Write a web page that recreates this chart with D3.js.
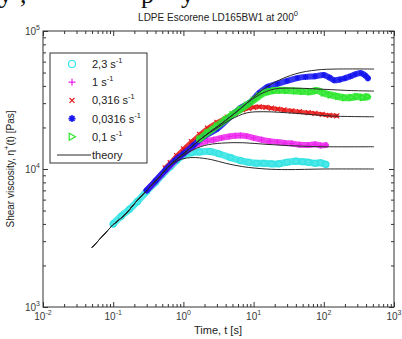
<!DOCTYPE html>
<html>
<head>
<meta charset="utf-8">
<script src="https://cdn.jsdelivr.net/npm/d3@7"></script>
<style>
  body { margin: 0; background: #fff; }
  svg { display: block; font-family: "Liberation Sans", Arial, sans-serif; }
</style>
</head>
<body>
<div id="chart"></div>
<script>
const t23 = [0.1, 0.13, 0.17, 0.22, 0.3, 0.4, 0.5, 0.65, 0.8, 1.0, 1.3, 1.7, 2.4, 3.2, 4.7, 6.5, 8.5, 11, 14, 18, 23, 30, 40, 50, 60, 75, 90, 107];
const eta23 = [4000, 4550, 5100, 5800, 6900, 8000, 9100, 10400, 11500, 12600, 13100, 13300, 13400, 12900, 12100, 11500, 11200, 11000, 11000, 10900, 10900, 11200, 11400, 11300, 11200, 11000, 11100, 10800];

const t1 = [0.3, 0.36, 0.45, 0.55, 0.7, 0.85, 1.0, 1.3, 1.7, 2.2, 2.7, 3.5, 4.5, 5.5, 6.5, 8, 10, 13, 17, 22, 28, 35, 45, 60, 75, 90, 107];
const eta1 = [7000, 7700, 8700, 9700, 11000, 12100, 12900, 14200, 15300, 16000, 16300, 16800, 17200, 17400, 17500, 17300, 16800, 16300, 15900, 15700, 15400, 15300, 15000, 14900, 15100, 14800, 14900];

const t0316 = [0.55, 0.65, 0.8, 1.0, 1.3, 1.7, 2.2, 3.0, 4.2, 5.5, 7, 8.5, 10, 12, 15, 18, 22, 27, 35, 45, 60, 75, 95, 120, 153];
const eta0316 = [10200, 11100, 12500, 14000, 15800, 17800, 19800, 21800, 23800, 25500, 26800, 27500, 28000, 28200, 28000, 27600, 27200, 26800, 26400, 26000, 25600, 25300, 24900, 24500, 24300];

const t00316 = [0.3, 0.4, 0.55, 0.75, 1.0, 1.4, 2, 3, 4.5, 6.6, 9, 12, 16, 22, 30, 42, 55, 75, 100, 120, 140, 170, 200, 240, 280, 340, 390, 425];
const eta00316 = [7000, 8200, 9800, 11500, 12900, 14900, 17300, 19500, 23500, 27800, 30500, 35500, 39500, 41500, 43500, 45600, 46500, 47000, 48000, 46000, 44000, 44500, 45500, 47000, 48500, 49500, 47500, 45500];

const t01 = [1.7, 2.2, 3, 4, 5, 6.5, 8, 10, 12, 14, 17, 20, 25, 30, 40, 50, 65, 80, 100, 125, 160, 200, 250, 300, 360, 420];
const eta01 = [16500, 18300, 20500, 22800, 24800, 27000, 29000, 31500, 33800, 35500, 36500, 37000, 37200, 37000, 36800, 36500, 36300, 37000, 35500, 34400, 33500, 32800, 33000, 33500, 33000, 33400];

// theory: common start-up envelope, then one branch per rate
const envT = [0.05, 0.07, 0.1, 0.15, 0.2, 0.3, 0.45, 0.6, 1, 2, 4, 6, 8, 12, 20, 40, 80, 150, 520];
const envEta = [2700, 3250, 3950, 4700, 5600, 7000, 8700, 10300, 12900, 17300, 22500, 26500, 30000, 36000, 42500, 49000, 52200, 53000, 53000];

const th23T = [0.8, 1.1, 1.5, 2.5, 4, 7, 15, 30, 100, 520];
const th23Eta = [11400, 12000, 12100, 11700, 11000, 10400, 10000, 9900, 10000, 10000];
const th1T = [0.8, 1.2, 2, 3.5, 7, 15, 40, 100, 520];
const th1Eta = [11700, 13300, 14800, 15400, 15500, 15100, 14700, 14500, 14500];
const th0316T = [3, 4.7, 8, 14, 40, 130, 520];
const th0316Eta = [19800, 22800, 25500, 26000, 25300, 24200, 23900];
const th01T = [12, 20, 40, 100, 250, 520];
const th01Eta = [34500, 38000, 38500, 37800, 37000, 36700];

const legendLabels = ["2,3", "1", "0,316", "0,0316", "0,1"];
const xDecades = [-2, -1, 0, 1, 2, 3];
const yDecades = [3, 4, 5];

const zip = (a, b) => a.map((v, i) => [v, b[i]]);
const withEnv = (bt, be) => zip(envT, envEta).filter(d => d[0] < bt[0]).concat(zip(bt, be));

const series = [
  { pts: zip(t23, eta23), color: "#2fe3e3", band: 7, mark: "circle", label: legendLabels[0] },
  { pts: zip(t1, eta1), color: "#ec22ec", band: 6, mark: "plus", label: legendLabels[1] },
  { pts: zip(t0316, eta0316), color: "#e61414", band: 4, mark: "x", label: legendLabels[2] },
  { pts: zip(t00316, eta00316), color: "#1414ee", band: 6, mark: "star", label: legendLabels[3] },
  { pts: zip(t01, eta01), color: "#2ae62a", band: 7, mark: "tri", label: legendLabels[4] }
];
const theory = [
  withEnv(th23T, th23Eta),
  withEnv(th1T, th1Eta),
  withEnv(th0316T, th0316Eta),
  zip(envT, envEta),
  withEnv(th01T, th01Eta)
];

const width = 402, height = 339;
const x = d3.scaleLog().domain([1e-2, 1e3]).range([43, 394]);
const y = d3.scaleLog().domain([1e3, 1e5]).range([307, 31]);

const svg = d3.select("#chart").append("svg")
  .attr("width", width).attr("height", height);

// bits of page text cut off above the figure
const cut = svg.append("g").attr("font-family", "Liberation Serif, serif").attr("font-size", 26).attr("fill", "#111");
[["y", -1], [",", 20], ["p", 141], ["y", 181]].forEach(d => cut.append("text").attr("x", d[1]).attr("y", 3).text(d[0]));

svg.append("defs").append("clipPath").attr("id", "plotclip")
  .append("rect").attr("x", 43).attr("y", 31).attr("width", 351).attr("height", 276);

function marker(type, s) {
  if (type === "circle") return d3.symbol(d3.symbolCircle, Math.PI * s * s)();
  if (type === "plus") return `M${-s},0H${s}M0,${-s}V${s}`;
  if (type === "x") return `M${-s},${-s}L${s},${s}M${-s},${s}L${s},${-s}`;
  if (type === "star") {
    const k = s * 0.7;
    return `M${-s},0H${s}M0,${-s}V${s}M${-k},${-k}L${k},${k}M${-k},${k}L${k},${-k}`;
  }
  return `M${-s * 0.8},${-s}L${s},0L${-s * 0.8},${s}Z`;
}

const line = d3.line().x(d => x(d[0])).y(d => y(d[1])).curve(d3.curveCatmullRom);
const plot = svg.append("g").attr("clip-path", "url(#plotclip)");

series.forEach(s => {
  plot.append("path").datum(s.pts)
    .attr("d", line).attr("fill", "none")
    .attr("stroke", s.color).attr("stroke-width", s.band)
    .attr("stroke-linecap", "round").attr("stroke-linejoin", "round")
    .attr("opacity", 0.85);
  plot.append("g").selectAll("path").data(s.pts).join("path")
    .attr("transform", d => `translate(${x(d[0])},${y(d[1])})`)
    .attr("d", marker(s.mark, s.mark === "x" ? 2.5 : 3))
    .attr("fill", s.mark === "star" ? s.color : "none")
    .attr("stroke", s.color).attr("stroke-width", 1.1);
});

plot.selectAll(".theory").data(theory).join("path")
  .attr("class", "theory")
  .attr("d", line).attr("fill", "none")
  .attr("stroke", "#2a2a2a").attr("stroke-width", 1);

// axes: inward ticks on all four sides
const xAll = x.ticks(), yAll = y.ticks();
const isMajor = v => Math.abs(Math.log10(v) - Math.round(Math.log10(v))) < 1e-9;
const xMaj = xAll.filter(isMajor), xMin = xAll.filter(v => !isMajor(v));
const yMaj = yAll.filter(isMajor), yMin = yAll.filter(v => !isMajor(v));

const axes = [
  [d3.axisBottom(x), 307, 0, xMaj, xMin],
  [d3.axisTop(x), 31, 0, xMaj, xMin],
  [d3.axisLeft(y), 0, 43, yMaj, yMin],
  [d3.axisRight(y), 0, 394, yMaj, yMin]
];
axes.forEach(([ax, ty, tx, maj, min]) => {
  [[maj, 5], [min, 3]].forEach(([vals, len]) => {
    const g = svg.append("g").attr("transform", `translate(${tx},${ty})`)
      .call(ax.tickValues(vals).tickSize(-len).tickFormat(""));
    g.select(".domain").remove();
    g.selectAll("line").attr("stroke", "#333");
  });
});

svg.append("rect").attr("x", 43).attr("y", 31).attr("width", 351).attr("height", 276)
  .attr("fill", "none").attr("stroke", "#333").attr("stroke-width", 1);

// tick labels with superscript exponents
svg.append("g").selectAll("text").data(xDecades).join("text")
  .attr("x", d => x(Math.pow(10, d))).attr("y", 320)
  .attr("text-anchor", "middle").attr("font-size", 10).attr("fill", "#3a3a3a")
  .each(function (d) {
    const t = d3.select(this);
    t.append("tspan").text("10");
    t.append("tspan").attr("dy", -5).attr("font-size", 7).text(d);
  });

svg.append("g").selectAll("text").data(yDecades).join("text")
  .attr("x", 40).attr("y", d => y(Math.pow(10, d)) + 4)
  .attr("text-anchor", "end").attr("font-size", 10).attr("fill", "#3a3a3a")
  .each(function (d) {
    const t = d3.select(this);
    t.append("tspan").text("10");
    t.append("tspan").attr("dy", -5).attr("font-size", 7).text(d);
  });

// title and axis labels
const title = svg.append("text").attr("x", 218).attr("y", 21)
  .attr("text-anchor", "middle").attr("font-size", 10).attr("fill", "#222");
title.append("tspan").text("LDPE Escorene LD165BW1 at 200");
title.append("tspan").attr("dy", -5).attr("font-size", 7.5).text("0");

svg.append("text").attr("x", 218).attr("y", 334)
  .attr("text-anchor", "middle").attr("font-size", 11).attr("fill", "#222")
  .text("Time, t [s]");

const yl = svg.append("text").attr("transform", "translate(14,169) rotate(-90)")
  .attr("text-anchor", "middle").attr("font-size", 10).attr("fill", "#222");
yl.append("tspan").text("Shear viscosity, η");
yl.append("tspan").attr("dy", -5).attr("font-size", 7.5).text("+");
yl.append("tspan").attr("dy", 5).text("(t) [Pas]");

// legend
const lg = svg.append("g");
lg.append("rect").attr("x", 50).attr("y", 53).attr("width", 97).attr("height", 110)
  .attr("fill", "#fff").attr("stroke", "#333").attr("stroke-width", 1);
series.forEach((s, i) => {
  const ry = 64 + i * 18.2;
  lg.append("path").attr("transform", `translate(72,${ry})`)
    .attr("d", marker(s.mark, s.mark === "x" ? 2.5 : 3.5))
    .attr("fill", s.mark === "star" ? s.color : "none")
    .attr("stroke", s.color).attr("stroke-width", s.mark === "star" ? 1.6 : 1.2);
  const tx = lg.append("text").attr("x", 92).attr("y", ry + 4)
    .attr("font-size", 11).attr("fill", "#222");
  tx.append("tspan").text(s.label + " s");
  tx.append("tspan").attr("dy", -5).attr("font-size", 7.5).text("-1");
});
lg.append("line").attr("x1", 57).attr("x2", 91).attr("y1", 155).attr("y2", 155)
  .attr("stroke", "#2a2a2a").attr("stroke-width", 1.2);
lg.append("text").attr("x", 92).attr("y", 159).attr("font-size", 11).attr("fill", "#222").text("theory");
</script>
</body>
</html>
